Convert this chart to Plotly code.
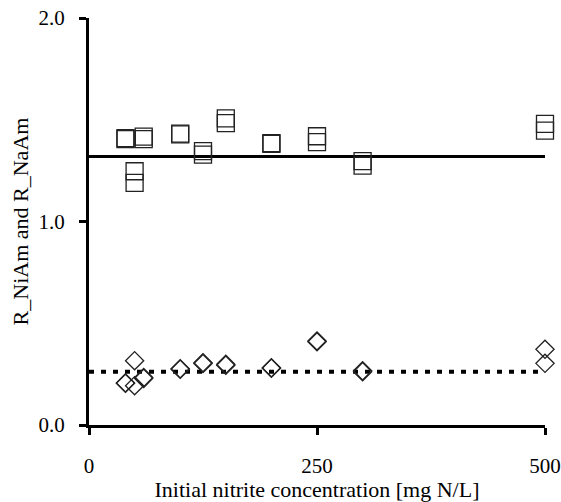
import plotly.graph_objects as go

# R_NiAm (squares) data
sq_x = [40, 40, 50, 50, 60, 60, 100, 100, 125, 125, 150, 150, 200, 200, 250, 250, 300, 300, 500, 500]
sq_y = [1.41, 1.405, 1.247, 1.19, 1.417, 1.405, 1.432, 1.428, 1.346, 1.329, 1.507, 1.483, 1.385, 1.382, 1.419, 1.39, 1.297, 1.275, 1.48, 1.447]

# R_NaAm (diamonds) data
di_x = [40, 40, 50, 50, 60, 60, 100, 100, 125, 125, 150, 150, 200, 200, 250, 250, 300, 300, 500, 500]
di_y = [0.205, 0.207, 0.316, 0.193, 0.229, 0.233, 0.274, 0.276, 0.306, 0.302, 0.298, 0.294, 0.279, 0.281, 0.409, 0.413, 0.262, 0.266, 0.372, 0.303]

# Mean lines
mean_x = [0, 500]
mean_niam = 1.32
mean_naam = 0.262

x_ticks = [0, 250, 500]
x_tick_text = ["0", "250", "500"]
y_ticks = [0, 1, 2]
y_tick_text = ["0.0", "1.0", "2.0"]

FONT = "Liberation Serif, Times New Roman, serif"

fig = go.Figure()
fig.add_trace(go.Scatter(x=mean_x, y=[mean_niam] * len(mean_x), mode="lines",
                         line=dict(color="black", width=3), showlegend=False, cliponaxis=False))
fig.add_trace(go.Scatter(x=mean_x, y=[mean_naam] * len(mean_x), mode="lines",
                         line=dict(color="black", width=4, dash="5px,7px"), showlegend=False, cliponaxis=False))
fig.add_trace(go.Scatter(x=sq_x, y=sq_y, mode="markers", showlegend=False, cliponaxis=False,
                         marker=dict(symbol="square-open", size=17, color="#222",
                                     line=dict(color="#222", width=1.3))))
fig.add_trace(go.Scatter(x=di_x, y=di_y, mode="markers", showlegend=False, cliponaxis=False,
                         marker=dict(symbol="diamond-open", size=14, color="#222",
                                     line=dict(color="#222", width=1.3))))

fig.update_layout(
    width=561, height=502,
    margin=dict(l=89, r=16, t=18, b=77),
    paper_bgcolor="white", plot_bgcolor="white",
    font=dict(family=FONT, size=21, color="black"),
    xaxis=dict(range=[0, 500], tickvals=x_ticks, ticktext=x_tick_text, automargin=False,
               showgrid=False, zeroline=False, showline=True, linecolor="black", linewidth=3,
               ticks="outside", ticklen=7, tickwidth=3, tickcolor="black",
               ticklabelstandoff=13, ticklabeloverflow="allow",
               title=dict(text="Initial nitrite concentration [mg N/L]", standoff=0,
                          font=dict(family=FONT, size=22))),
    yaxis=dict(range=[0, 2], tickvals=y_ticks, ticktext=y_tick_text, automargin=False,
               showgrid=False, zeroline=False, showline=True, linecolor="black", linewidth=3,
               ticks="outside", ticklen=7, tickwidth=3, tickcolor="black",
               ticklabelstandoff=10, ticklabeloverflow="allow",
               title=dict(text="R_NiAm and R_NaAm", standoff=4,
                          font=dict(family=FONT, size=22))),
)

fig.write_html("out.html")
